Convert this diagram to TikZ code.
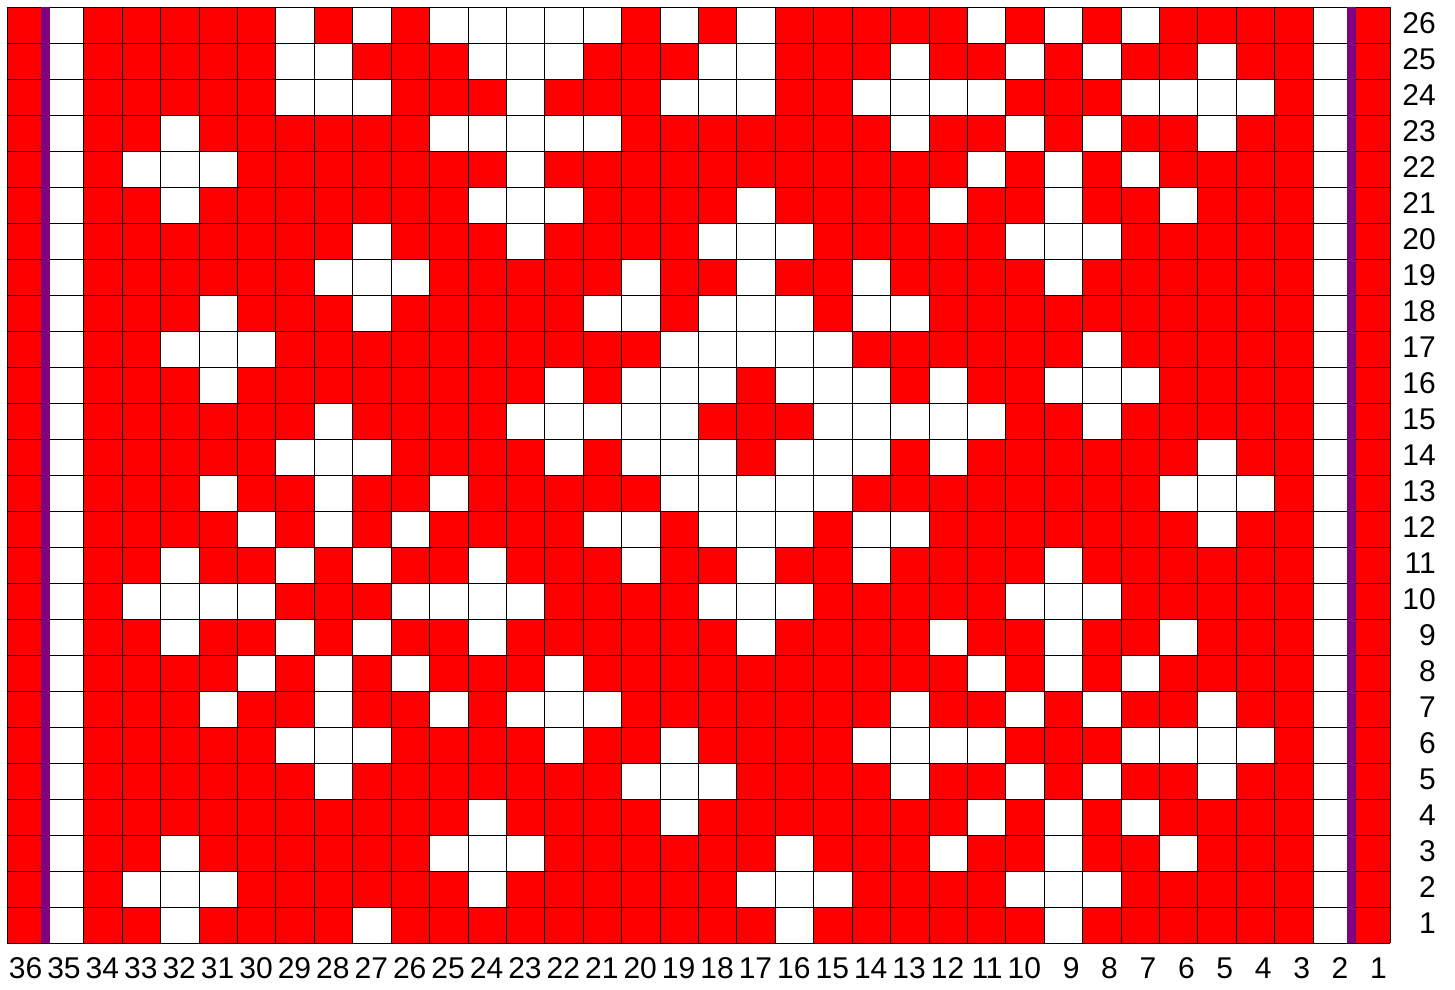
\documentclass[tikz,border=0pt]{standalone}
\usepackage{fontspec}
\setmainfont{Liberation Sans}
\definecolor{cellred}{RGB}{255,0,0}
\definecolor{stripe}{RGB}{128,0,128}
\begin{document}
\begin{tikzpicture}[x=1pt,y=-1pt,
  lab/.style={font=\fontsize{30}{36}\selectfont, inner sep=0pt, anchor=base east},
  gridline/.style={black, line width=0.9pt}]
\useasboundingbox (0,0) rectangle (1455,989);
\def\cw{38.4167}
% background red
\fill[cellred] (7,7) rectangle (1390,943);
% white selvage columns 35 and 2
\fill[white] ({7+\cw},7) rectangle ({7+2*\cw},943);
\fill[white] ({7+34*\cw},7) rectangle ({7+35*\cw},943);
% white cells per row
\foreach \r/\ws in {
  26/{29,27,25,24,23,22,21,19,17,11,9,7},
  25/{29,28,24,23,22,18,17,13,10,8,5},
  24/{29,28,27,23,19,18,17,14,13,12,11,7,6,5,4},
  23/{32,25,24,23,22,21,13,10,8,5},
  22/{33,32,31,23,11,9,7},
  21/{32,24,23,22,17,12,9,6},
  20/{27,23,18,17,16,10,9,8},
  19/{28,27,26,20,17,14,9},
  18/{31,27,21,20,18,17,16,14,13},
  17/{32,31,30,19,18,17,16,15,8},
  16/{31,22,20,19,18,16,15,14,12,9,8,7},
  15/{28,23,22,21,20,19,15,14,13,12,11,8},
  14/{29,28,27,22,20,19,18,16,15,14,12,5},
  13/{31,28,25,19,18,17,16,15,6,5,4},
  12/{30,28,26,21,20,18,17,16,14,13,5},
  11/{32,29,27,24,20,17,14,9},
  10/{33,32,31,30,26,25,24,23,18,17,16,10,9,8},
  9/{32,29,27,24,17,12,9,6},
  8/{30,28,26,22,11,9,7},
  7/{31,28,25,23,22,21,13,10,8,5},
  6/{29,28,27,22,19,14,13,12,11,7,6,5,4},
  5/{28,20,19,18,13,10,8,5},
  4/{24,19,11,9,7},
  3/{32,25,24,23,16,12,9,6},
  2/{33,32,31,24,17,16,15,10,9,8},
  1/{32,27,16,9}} {
  \foreach \c in \ws {
    \fill[white] ({7+\cw*(36-\c)},{7+36*(26-\r)}) rectangle ++(\cw,36);
  }
}
% grid lines
\foreach \i in {0,...,36} {
  \draw[gridline] ({7+\cw*\i},7) -- ++(0,936);
}
\foreach \j in {0,...,26} {
  \draw[gridline] (7,{7+36*\j}) -- ++(1383,0);
}
% purple stripes
\fill[stripe] ({7+\cw-4.2},7) rectangle ({7+\cw+4.2},943);
\fill[stripe] ({7+35*\cw-4.2},7) rectangle ({7+35*\cw+4.2},943);
% column labels
\foreach \c in {1,...,36} {
  \node[lab] (cl\c) at ({7+\cw*(37-\c)-3},978.5) {\c};
}
% row labels
\foreach \r in {1,...,26} {
  \node[lab] (rl\r) at (1436,{7+36*(26-\r)+26.3}) {\r};
}
\end{tikzpicture}
\end{document}
